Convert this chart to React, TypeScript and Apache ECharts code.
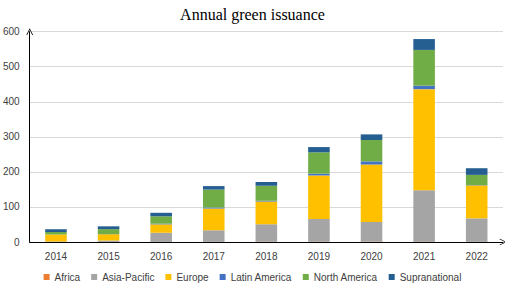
import React, { useEffect, useRef } from "react";
import * as echarts from "echarts";

const years = ["2014", "2015", "2016", "2017", "2018", "2019", "2020", "2021", "2022"];
const africa = [0.2, 0.2, 0.3, 0.5, 0.5, 0.8, 1, 1, 0.5];
const asiaPacific = [1, 4, 26, 33, 50, 65, 56, 147, 67];
const europe = [20, 18, 24, 62, 65, 124, 164, 288, 94];
const latinAmerica = [0.5, 0.5, 2, 3, 2, 5, 9, 10, 1];
const northAmerica = [6.5, 14, 21, 51, 43, 61, 61, 102, 29];
const supranational = [8, 8, 10, 10, 11, 15, 16, 31, 19];
const yTicks = { min: 0, max: 600, interval: 100 };

const seriesDefs = [
  { name: "Africa", data: africa, color: "#ED7D31" },
  { name: "Asia-Pacific", data: asiaPacific, color: "#A5A5A5" },
  { name: "Europe", data: europe, color: "#FFC000" },
  { name: "Latin America", data: latinAmerica, color: "#4472C4" },
  { name: "North America", data: northAmerica, color: "#70AD47" },
  { name: "Supranational", data: supranational, color: "#255E91" },
];

const chevron = "path://M0,10 L5,0 L10,10 L9,10.6 L5,2.2 L1,10.6 Z";
const sans = "Liberation Sans";

export default function App() {
  const ref = useRef<HTMLDivElement>(null);
  useEffect(() => {
    if (!ref.current) return;
    const chart = echarts.init(ref.current, null, { renderer: "svg" });
    chart.setOption({
      animation: false,
      title: {
        text: "Annual green issuance",
        left: "center",
        top: 1,
        textStyle: { fontFamily: "Liberation Serif", fontSize: 16, fontWeight: "normal", color: "#000" },
      },
      legend: {
        top: 267,
        left: "center",
        itemWidth: 6,
        itemHeight: 6,
        itemGap: 11,
        icon: "rect",
        textStyle: { fontFamily: sans, fontSize: 10, color: "#404040" },
        data: seriesDefs.map((s) => s.name),
      },
      grid: { left: 28, right: 2, top: 31.7, bottom: 44 },
      xAxis: {
        type: "category",
        data: years,
        axisTick: { show: false },
        axisLine: {
          show: true,
          lineStyle: { color: "#000", width: 1 },
          symbol: ["none", chevron],
          symbolSize: [9, 7],
          symbolOffset: [0, 0],
        },
        axisLabel: { fontFamily: sans, fontSize: 10, color: "#404040", margin: 9 },
      },
      yAxis: {
        type: "value",
        min: yTicks.min,
        max: yTicks.max,
        interval: yTicks.interval,
        axisTick: { show: false },
        axisLine: {
          show: true,
          lineStyle: { color: "#000", width: 1 },
          symbol: ["none", chevron],
          symbolSize: [9, 7],
          symbolOffset: [0, 0],
        },
        axisLabel: { fontFamily: sans, fontSize: 10, color: "#404040", margin: 10 },
        splitLine: { show: true, lineStyle: { color: "#D9D9D9", width: 1 } },
      },
      series: seriesDefs.map((s) => ({
        name: s.name,
        type: "bar",
        stack: "total",
        data: s.data,
        barWidth: "41%",
        itemStyle: { color: s.color },
      })),
    });
    return () => chart.dispose();
  }, []);
  return <div ref={ref} style={{ width: 505, height: 286, position: "absolute", left: 0, top: 0 }} />;
}
